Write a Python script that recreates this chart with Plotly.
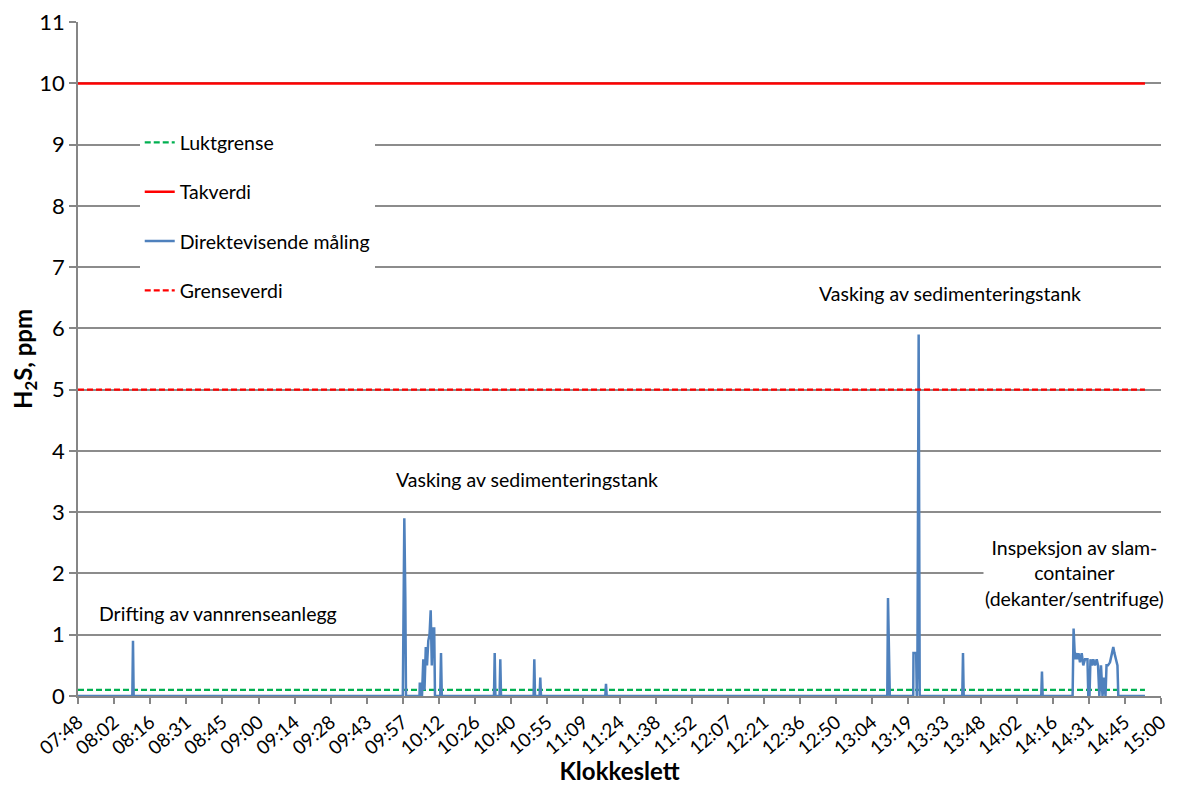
import plotly.graph_objects as go
import pandas as pd

DAY = "2024-01-01 "

# Direct-reading H2S measurement (time, ppm)
meas_time = [
    "07:48:00",
    "08:09:40", "08:09:56", "08:10:12",
    "09:57:34", "09:57:48", "09:58:10", "09:58:34", "09:58:50",
    "10:04:13", "10:04:20", "10:05:01", "10:05:13", "10:05:44", "10:06:13", "10:06:44",
    "10:07:13", "10:07:44", "10:08:13", "10:08:41", "10:09:08", "10:09:32", "10:10:05", "10:10:24",
    "10:12:29", "10:12:48", "10:13:07",
    "10:33:56", "10:34:13", "10:34:30",
    "10:36:10", "10:36:27", "10:36:44",
    "10:49:44", "10:50:01", "10:50:18",
    "10:52:07", "10:52:24", "10:52:41",
    "11:18:20", "11:18:37", "11:18:54",
    "13:10:49", "13:11:06", "13:11:20", "13:11:37", "13:11:50",
    "13:21:10", "13:21:16", "13:22:20", "13:22:35", "13:22:50", "13:23:20", "13:23:45",
    "13:40:44", "13:41:01", "13:41:18",
    "14:12:14", "14:12:31", "14:12:48",
    "14:24:44", "14:25:08", "14:25:41", "14:26:05", "14:26:36", "14:27:05", "14:27:41",
    "14:28:22", "14:29:00", "14:29:41", "14:30:40", "14:31:00", "14:31:29", "14:31:52",
    "14:32:28", "14:33:00", "14:33:40", "14:34:21", "14:34:53", "14:35:24", "14:36:04",
    "14:36:40", "14:37:16", "14:37:52", "14:38:16", "14:38:51", "14:39:39", "14:40:27",
    "14:40:58", "14:41:26", "14:42:14", "14:42:38", "14:42:58",
    "14:53:36",
]
meas_ppm = [
    0.0,
    0.0, 0.9, 0.0,
    0.0, 2.0, 2.9, 1.6, 0.0,
    0.0, 0.2, 0.2, 0.0, 0.6, 0.1, 0.8,
    0.5, 0.9, 1.0, 1.4, 0.5, 1.1, 1.1, 0.0,
    0.0, 0.7, 0.0,
    0.0, 0.7, 0.0,
    0.0, 0.6, 0.0,
    0.0, 0.6, 0.0,
    0.0, 0.3, 0.0,
    0.0, 0.2, 0.0,
    0.0, 1.6, 0.8, 0.8, 0.0,
    0.0, 0.7, 0.7, 0.0, 0.5, 5.9, 0.0,
    0.0, 0.7, 0.0,
    0.0, 0.4, 0.0,
    0.0, 1.1, 0.6, 0.7, 0.6, 0.7, 0.55,
    0.7, 0.5, 0.6, 0.6, 0.0, 0.0, 0.6,
    0.5, 0.6, 0.5, 0.6, 0.5, 0.0, 0.5,
    0.0, 0.3, 0.0, 0.5, 0.5, 0.55, 0.7,
    0.8, 0.7, 0.55, 0.5, 0.0,
    0.0,
]

# Reference limits (ppm)
limit_span = ["07:48:00", "14:53:36"]
luktgrense = 0.1
takverdi = 10
grenseverdi = 5

# Axis ticks
tick_labels = ["07:48", "08:02", "08:16", "08:31", "08:45", "09:00", "09:14", "09:28",
               "09:43", "09:57", "10:12", "10:26", "10:40", "10:55", "11:09", "11:24",
               "11:38", "11:52", "12:07", "12:21", "12:36", "12:50", "13:04", "13:19",
               "13:33", "13:48", "14:02", "14:16", "14:31", "14:45", "15:00"]
y_ticks = [0, 1, 2, 3, 4, 5, 6, 7, 8, 9, 10, 11]
tick_step_min = 14.4
x_start = "07:48:00"
x_end = "15:00:00"

# Annotations
notes = [
    ("Drifting av vannrenseanlegg", "08:44:00", 1.34),
    ("Vasking av sedimenteringstank", "10:47:00", 3.54),
    ("Vasking av sedimenteringstank", "13:36:00", 6.57),
    ("Inspeksjon av slam-<br>container<br>(dekanter/sentrifuge)", "14:25:40", 2.0),
]


def ts(t):
    return pd.Timestamp(DAY + t)


x_meas = [ts(t) for t in meas_time]
x_lim = [ts(t) for t in limit_span]
t0 = ts(x_start)
tickvals = [t0 + pd.Timedelta(minutes=tick_step_min * i) for i in range(len(tick_labels))]

FONT = "Lato, 'Open Sans', Arial, sans-serif"

fig = go.Figure()
fig.add_trace(go.Scatter(x=x_lim, y=[luktgrense] * 2, mode="lines", name="Luktgrense",
                         legendgroup="a",
                         line=dict(color="#00B050", width=2.25, dash="6px,3px")))
fig.add_trace(go.Scatter(x=x_lim, y=[takverdi] * 2, mode="lines", name="Takverdi",
                         legendgroup="b",
                         line=dict(color="#FF0000", width=2.5)))
fig.add_trace(go.Scatter(x=x_meas, y=meas_ppm, mode="lines", name="Direktevisende måling",
                         legendgroup="c",
                         line=dict(color="#4F81BD", width=2.5)))
fig.add_trace(go.Scatter(x=x_lim, y=[grenseverdi] * 2, mode="lines", name="Grenseverdi",
                         legendgroup="d",
                         line=dict(color="#FF0000", width=2.25, dash="6px,3px")))

for text, t, yv in notes:
    fig.add_annotation(x=ts(t), y=yv, text=text, showarrow=False,
                       font=dict(size=19.5, color="#000000", family=FONT),
                       bgcolor="#FFFFFF", align="center")

# the page body adds an 8px margin, so the figure is 8px smaller and shifted
fig.update_layout(
    width=1181, height=777,
    margin=dict(l=70, r=28, t=14, b=89),
    paper_bgcolor="#FFFFFF", plot_bgcolor="#FFFFFF",
    font=dict(family=FONT, color="#000000"),
    showlegend=True,
    legend=dict(x=0.057, y=0.85, xanchor="left", yanchor="top",
                bgcolor="#FFFFFF", font=dict(size=19.5, family=FONT),
                traceorder="grouped", tracegroupgap=21,
                borderwidth=0),
    xaxis=dict(
        type="date", range=[t0, ts(x_end)], automargin=False,
        tickvals=tickvals, ticktext=tick_labels, tickangle=-40,
        tickfont=dict(size=19, family=FONT),
        showgrid=False, showline=True, linecolor="#868686", linewidth=1.5,
        ticks="outside", ticklen=6, tickcolor="#868686", tickwidth=1.5,
        zeroline=False,
        title=dict(text="<b>Klokkeslett</b>", font=dict(size=24, family=FONT), standoff=6),
    ),
    yaxis=dict(
        range=[0, 11.002], tickmode="array", tickvals=y_ticks,
        ticktext=[str(v) for v in y_ticks], automargin=False,
        ticklabeloverflow="allow",
        tickfont=dict(size=22, family=FONT),
        showgrid=True, gridcolor="#8C8C8C", gridwidth=1.5,
        showline=True, linecolor="#868686", linewidth=1.5,
        ticks="outside", ticklen=7, tickcolor="#868686", tickwidth=1.5,
        zeroline=False,
        title=dict(text="<b>H<sub>2</sub>S, ppm</b>", font=dict(size=24, family=FONT), standoff=12),
    ),
)

fig.write_html("out.html")
